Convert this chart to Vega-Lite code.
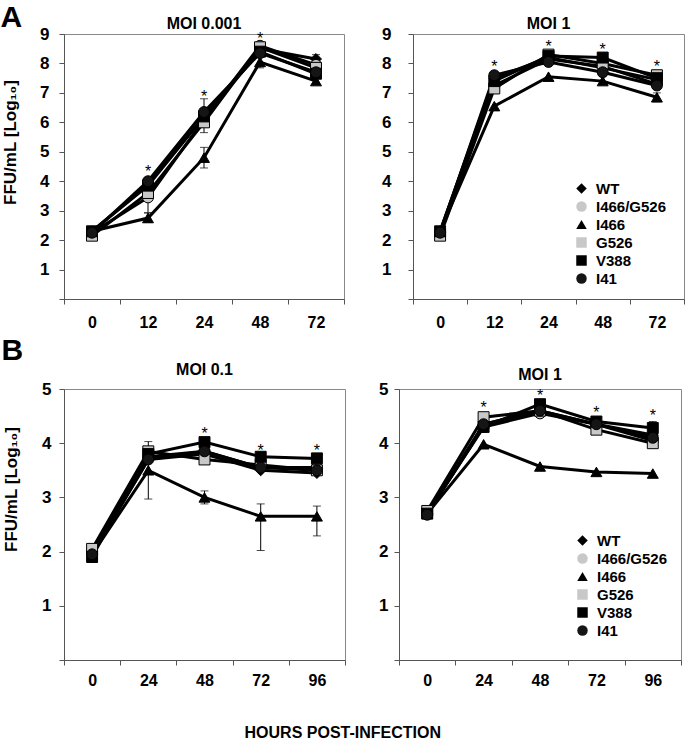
{
  "$schema": "https://vega.github.io/schema/vega-lite/v6.json",
  "padding": {"left": 0, "top": 2, "right": 0, "bottom": 0},
  "config": {
    "font": "Liberation Sans",
    "view": {"stroke": "#888", "strokeWidth": 1},
    "axis": {"domainColor": "#555", "tickColor": "#555", "labelFontWeight": "bold", "labelColor": "black", "titleColor": "black", "grid": false, "tickSize": 5},
    "title": {"fontSize": 16, "fontWeight": "bold", "color": "black"},
    "text": {"fill": "black"}
  },
  "datasets": {
    "growth": [
      {"panel": "A1", "hour": 0, "series": "WT", "value": 2.3},
      {"panel": "A1", "hour": 12, "series": "WT", "value": 3.9},
      {"panel": "A1", "hour": 24, "series": "WT", "value": 6.2, "lo": 5.65, "hi": 6.8},
      {"panel": "A1", "hour": 48, "series": "WT", "value": 8.5},
      {"panel": "A1", "hour": 72, "series": "WT", "value": 8.15, "lo": 8.0, "hi": 8.3},
      {"panel": "A1", "hour": 0, "series": "I466/G526", "value": 2.25},
      {"panel": "A1", "hour": 12, "series": "I466/G526", "value": 3.45, "lo": 2.93, "hi": 3.95},
      {"panel": "A1", "hour": 24, "series": "I466/G526", "value": 6.1},
      {"panel": "A1", "hour": 48, "series": "I466/G526", "value": 8.6},
      {"panel": "A1", "hour": 72, "series": "I466/G526", "value": 7.95},
      {"panel": "A1", "hour": 0, "series": "I466", "value": 2.3},
      {"panel": "A1", "hour": 12, "series": "I466", "value": 2.75, "lo": 2.6, "hi": 2.92},
      {"panel": "A1", "hour": 24, "series": "I466", "value": 4.8, "lo": 4.45, "hi": 5.15},
      {"panel": "A1", "hour": 48, "series": "I466", "value": 8.05, "lo": 7.85, "hi": 8.25},
      {"panel": "A1", "hour": 72, "series": "I466", "value": 7.4},
      {"panel": "A1", "hour": 0, "series": "G526", "value": 2.15},
      {"panel": "A1", "hour": 12, "series": "G526", "value": 3.6},
      {"panel": "A1", "hour": 24, "series": "G526", "value": 6.0},
      {"panel": "A1", "hour": 48, "series": "G526", "value": 8.55},
      {"panel": "A1", "hour": 72, "series": "G526", "value": 7.85},
      {"panel": "A1", "hour": 0, "series": "V388", "value": 2.3},
      {"panel": "A1", "hour": 12, "series": "V388", "value": 3.85},
      {"panel": "A1", "hour": 24, "series": "V388", "value": 6.2},
      {"panel": "A1", "hour": 48, "series": "V388", "value": 8.4},
      {"panel": "A1", "hour": 72, "series": "V388", "value": 7.65},
      {"panel": "A1", "hour": 0, "series": "I41", "value": 2.25},
      {"panel": "A1", "hour": 12, "series": "I41", "value": 4.0},
      {"panel": "A1", "hour": 24, "series": "I41", "value": 6.35},
      {"panel": "A1", "hour": 48, "series": "I41", "value": 8.35},
      {"panel": "A1", "hour": 72, "series": "I41", "value": 7.7},

      {"panel": "A2", "hour": 0, "series": "WT", "value": 2.3},
      {"panel": "A2", "hour": 12, "series": "WT", "value": 7.5},
      {"panel": "A2", "hour": 24, "series": "WT", "value": 8.2},
      {"panel": "A2", "hour": 48, "series": "WT", "value": 7.85},
      {"panel": "A2", "hour": 72, "series": "WT", "value": 7.45},
      {"panel": "A2", "hour": 0, "series": "I466/G526", "value": 2.25},
      {"panel": "A2", "hour": 12, "series": "I466/G526", "value": 7.25},
      {"panel": "A2", "hour": 24, "series": "I466/G526", "value": 8.15},
      {"panel": "A2", "hour": 48, "series": "I466/G526", "value": 7.9},
      {"panel": "A2", "hour": 72, "series": "I466/G526", "value": 7.3},
      {"panel": "A2", "hour": 0, "series": "I466", "value": 2.3},
      {"panel": "A2", "hour": 12, "series": "I466", "value": 6.55},
      {"panel": "A2", "hour": 24, "series": "I466", "value": 7.55},
      {"panel": "A2", "hour": 48, "series": "I466", "value": 7.4},
      {"panel": "A2", "hour": 72, "series": "I466", "value": 6.85, "lo": 6.7, "hi": 7.0},
      {"panel": "A2", "hour": 0, "series": "G526", "value": 2.15},
      {"panel": "A2", "hour": 12, "series": "G526", "value": 7.15},
      {"panel": "A2", "hour": 24, "series": "G526", "value": 8.3},
      {"panel": "A2", "hour": 48, "series": "G526", "value": 8.0},
      {"panel": "A2", "hour": 72, "series": "G526", "value": 7.6},
      {"panel": "A2", "hour": 0, "series": "V388", "value": 2.3},
      {"panel": "A2", "hour": 12, "series": "V388", "value": 7.4},
      {"panel": "A2", "hour": 24, "series": "V388", "value": 8.25},
      {"panel": "A2", "hour": 48, "series": "V388", "value": 8.2},
      {"panel": "A2", "hour": 72, "series": "V388", "value": 7.5},
      {"panel": "A2", "hour": 0, "series": "I41", "value": 2.25},
      {"panel": "A2", "hour": 12, "series": "I41", "value": 7.6},
      {"panel": "A2", "hour": 24, "series": "I41", "value": 8.05},
      {"panel": "A2", "hour": 48, "series": "I41", "value": 7.7},
      {"panel": "A2", "hour": 72, "series": "I41", "value": 7.25},

      {"panel": "B1", "hour": 0, "series": "WT", "value": 1.95},
      {"panel": "B1", "hour": 24, "series": "WT", "value": 3.7},
      {"panel": "B1", "hour": 48, "series": "WT", "value": 3.8},
      {"panel": "B1", "hour": 72, "series": "WT", "value": 3.5},
      {"panel": "B1", "hour": 96, "series": "WT", "value": 3.45},
      {"panel": "B1", "hour": 0, "series": "I466/G526", "value": 2.0},
      {"panel": "B1", "hour": 24, "series": "I466/G526", "value": 3.75},
      {"panel": "B1", "hour": 48, "series": "I466/G526", "value": 3.85},
      {"panel": "B1", "hour": 72, "series": "I466/G526", "value": 3.55},
      {"panel": "B1", "hour": 96, "series": "I466/G526", "value": 3.55},
      {"panel": "B1", "hour": 0, "series": "I466", "value": 1.95},
      {"panel": "B1", "hour": 24, "series": "I466", "value": 3.5, "lo": 2.97, "hi": 4.03},
      {"panel": "B1", "hour": 48, "series": "I466", "value": 3.0, "lo": 2.88, "hi": 3.12},
      {"panel": "B1", "hour": 72, "series": "I466", "value": 2.65, "lo": 2.02, "hi": 2.88},
      {"panel": "B1", "hour": 96, "series": "I466", "value": 2.65, "lo": 2.29, "hi": 2.84},
      {"panel": "B1", "hour": 0, "series": "G526", "value": 2.05},
      {"panel": "B1", "hour": 24, "series": "G526", "value": 3.85},
      {"panel": "B1", "hour": 48, "series": "G526", "value": 3.7},
      {"panel": "B1", "hour": 72, "series": "G526", "value": 3.6},
      {"panel": "B1", "hour": 96, "series": "G526", "value": 3.5},
      {"panel": "B1", "hour": 0, "series": "V388", "value": 1.9},
      {"panel": "B1", "hour": 24, "series": "V388", "value": 3.8},
      {"panel": "B1", "hour": 48, "series": "V388", "value": 4.02},
      {"panel": "B1", "hour": 72, "series": "V388", "value": 3.75},
      {"panel": "B1", "hour": 96, "series": "V388", "value": 3.72},
      {"panel": "B1", "hour": 0, "series": "I41", "value": 1.95},
      {"panel": "B1", "hour": 24, "series": "I41", "value": 3.7},
      {"panel": "B1", "hour": 48, "series": "I41", "value": 3.85},
      {"panel": "B1", "hour": 72, "series": "I41", "value": 3.55},
      {"panel": "B1", "hour": 96, "series": "I41", "value": 3.5},

      {"panel": "B2", "hour": 0, "series": "WT", "value": 2.7},
      {"panel": "B2", "hour": 24, "series": "WT", "value": 4.35},
      {"panel": "B2", "hour": 48, "series": "WT", "value": 4.6},
      {"panel": "B2", "hour": 72, "series": "WT", "value": 4.35},
      {"panel": "B2", "hour": 96, "series": "WT", "value": 4.15},
      {"panel": "B2", "hour": 0, "series": "I466/G526", "value": 2.7},
      {"panel": "B2", "hour": 24, "series": "I466/G526", "value": 4.3},
      {"panel": "B2", "hour": 48, "series": "I466/G526", "value": 4.55},
      {"panel": "B2", "hour": 72, "series": "I466/G526", "value": 4.35},
      {"panel": "B2", "hour": 96, "series": "I466/G526", "value": 4.05},
      {"panel": "B2", "hour": 0, "series": "I466", "value": 2.7},
      {"panel": "B2", "hour": 24, "series": "I466", "value": 3.98},
      {"panel": "B2", "hour": 48, "series": "I466", "value": 3.57},
      {"panel": "B2", "hour": 72, "series": "I466", "value": 3.47},
      {"panel": "B2", "hour": 96, "series": "I466", "value": 3.44},
      {"panel": "B2", "hour": 0, "series": "G526", "value": 2.75},
      {"panel": "B2", "hour": 24, "series": "G526", "value": 4.48},
      {"panel": "B2", "hour": 48, "series": "G526", "value": 4.6},
      {"panel": "B2", "hour": 72, "series": "G526", "value": 4.25},
      {"panel": "B2", "hour": 96, "series": "G526", "value": 4.0},
      {"panel": "B2", "hour": 0, "series": "V388", "value": 2.7},
      {"panel": "B2", "hour": 24, "series": "V388", "value": 4.3},
      {"panel": "B2", "hour": 48, "series": "V388", "value": 4.72},
      {"panel": "B2", "hour": 72, "series": "V388", "value": 4.4},
      {"panel": "B2", "hour": 96, "series": "V388", "value": 4.28, "lo": 4.16, "hi": 4.4},
      {"panel": "B2", "hour": 0, "series": "I41", "value": 2.68},
      {"panel": "B2", "hour": 24, "series": "I41", "value": 4.35},
      {"panel": "B2", "hour": 48, "series": "I41", "value": 4.6},
      {"panel": "B2", "hour": 72, "series": "I41", "value": 4.35},
      {"panel": "B2", "hour": 96, "series": "I41", "value": 4.1}
    ],
    "stars": [
      {"panel": "A1", "hour": 12, "value": 4.45},
      {"panel": "A1", "hour": 24, "value": 7.0},
      {"panel": "A1", "hour": 48, "value": 8.95},
      {"panel": "A2", "hour": 12, "value": 8.0},
      {"panel": "A2", "hour": 24, "value": 8.7},
      {"panel": "A2", "hour": 48, "value": 8.6},
      {"panel": "A2", "hour": 72, "value": 8.0},
      {"panel": "B1", "hour": 48, "value": 4.25},
      {"panel": "B1", "hour": 72, "value": 3.93},
      {"panel": "B1", "hour": 96, "value": 3.93},
      {"panel": "B2", "hour": 24, "value": 4.72},
      {"panel": "B2", "hour": 48, "value": 4.94},
      {"panel": "B2", "hour": 72, "value": 4.63},
      {"panel": "B2", "hour": 96, "value": 4.57}
    ]
  },
  "title": {"text": "HOURS POST-INFECTION", "orient": "bottom", "anchor": "middle", "fontSize": 16, "offset": 36},
  "resolve": {"scale": {"shape": "independent", "fill": "independent"}, "legend": {"shape": "independent", "fill": "independent"}},
  "spacing": 4,
  "vconcat": [
    {
      "title": {"text": "A", "anchor": "start", "fontSize": 30, "offset": -17, "frame": "bounds"},
      "spacing": 36,
      "resolve": {"scale": {"shape": "independent", "fill": "independent"}, "legend": {"shape": "independent", "fill": "independent"}},
      "hconcat": [
        {
          "width": 280, "height": 265,
          "title": {"text": "MOI 0.001", "offset": -7},
          "data": {"name": "growth"},
          "transform": [{"filter": "datum.panel == 'A1'"}],
          "encoding": {
            "x": {"field": "hour", "type": "ordinal", "bandPosition": 0.5, "scale": {"type": "band", "paddingInner": 0, "paddingOuter": 0}, "axis": {"title": null, "labelAngle": 0, "labelFontSize": 16, "labelPadding": 10, "tickBand": "extent"}},
            "y": {"field": "value", "type": "quantitative", "scale": {"domain": [0, 9], "nice": false}, "axis": {"values": [0,1,2,3,4,5,6,7,8,9], "labelExpr": "datum.value == 0 ? '' : datum.label", "labelFontSize": 17, "labelPadding": 10, "title": "FFU/mL [Log₁₀]", "titleFontSize": 17, "titleFontWeight": "bold", "titleX": -45, "titleY": 108}}
          },
          "layer": [
            {"mark": {"type": "line", "color": "black", "strokeWidth": 3}, "encoding": {"detail": {"field": "series"}}},
            {"transform": [{"filter": "isValid(datum.lo)"}], "mark": {"type": "rule", "color": "black", "strokeWidth": 1}, "encoding": {"y": {"field": "lo", "type": "quantitative", "title": "FFU/mL [Log₁₀]"}, "y2": {"field": "hi"}}},
            {"transform": [{"filter": "isValid(datum.lo)"}], "mark": {"type": "tick", "color": "black", "thickness": 1, "size": 8}, "encoding": {"y": {"field": "lo", "type": "quantitative", "title": "FFU/mL [Log₁₀]"}}},
            {"transform": [{"filter": "isValid(datum.lo)"}], "mark": {"type": "tick", "color": "black", "thickness": 1, "size": 8}, "encoding": {"y": {"field": "hi", "type": "quantitative", "title": "FFU/mL [Log₁₀]"}}},
            {"mark": {"type": "point", "filled": true, "stroke": "black", "strokeWidth": 1, "size": 120, "opacity": 1},
             "encoding": {
               "shape": {"field": "series", "type": "nominal", "scale": {"domain": ["WT", "I466/G526", "I466", "G526", "V388", "I41"], "range": ["diamond", "circle", "triangle-up", "square", "square", "circle"]}, "legend": null},
               "fill": {"field": "series", "type": "nominal", "scale": {"domain": ["WT", "I466/G526", "I466", "G526", "V388", "I41"], "range": ["#000000", "#c8c8c8", "#000000", "#c8c8c8", "#000000", "#151515"]}, "legend": null}
             }},
            {"data": {"name": "stars"}, "transform": [{"filter": "datum.panel == 'A1'"}], "mark": {"type": "text", "text": "*", "fontSize": 16, "baseline": "middle", "dy": 4, "fill": "black", "color": "black"}}
          ]
        },
        {
          "width": 271, "height": 265,
          "title": {"text": "MOI 1", "offset": -7},
          "data": {"name": "growth"},
          "transform": [{"filter": "datum.panel == 'A2'"}],
          "encoding": {
            "x": {"field": "hour", "type": "ordinal", "bandPosition": 0.5, "scale": {"type": "band", "paddingInner": 0, "paddingOuter": 0}, "axis": {"title": null, "labelAngle": 0, "labelFontSize": 16, "labelPadding": 10, "tickBand": "extent"}},
            "y": {"field": "value", "type": "quantitative", "scale": {"domain": [0, 9], "nice": false}, "axis": {"values": [0,1,2,3,4,5,6,7,8,9], "labelExpr": "datum.value == 0 ? '' : datum.label", "labelFontSize": 17, "labelPadding": 17, "title": null}}
          },
          "layer": [
            {"mark": {"type": "line", "color": "black", "strokeWidth": 3}, "encoding": {"detail": {"field": "series"}}},
            {"transform": [{"filter": "isValid(datum.lo)"}], "mark": {"type": "rule", "color": "black", "strokeWidth": 1}, "encoding": {"y": {"field": "lo", "type": "quantitative", "title": null}, "y2": {"field": "hi"}}},
            {"transform": [{"filter": "isValid(datum.lo)"}], "mark": {"type": "tick", "color": "black", "thickness": 1, "size": 8}, "encoding": {"y": {"field": "lo", "type": "quantitative", "title": null}}},
            {"transform": [{"filter": "isValid(datum.lo)"}], "mark": {"type": "tick", "color": "black", "thickness": 1, "size": 8}, "encoding": {"y": {"field": "hi", "type": "quantitative", "title": null}}},
            {"mark": {"type": "point", "filled": true, "stroke": "black", "strokeWidth": 1, "size": 120, "opacity": 1},
             "encoding": {
               "shape": {"field": "series", "type": "nominal", "scale": {"domain": ["WT", "I466/G526", "I466", "G526", "V388", "I41"], "range": ["diamond", "circle", "triangle-up", "square", "square", "circle"]}, "legend": {"title": null, "orient": "none", "legendX": 161, "legendY": 147, "labelFontSize": 15, "labelFontWeight": "bold", "labelColor": "black", "labelOffset": 7, "symbolSize": 110, "symbolStrokeColor": "black", "symbolStrokeWidth": 1, "rowPadding": 2, "padding": 0}},
               "fill": {"field": "series", "type": "nominal", "scale": {"domain": ["WT", "I466/G526", "I466", "G526", "V388", "I41"], "range": ["#000000", "#c8c8c8", "#000000", "#c8c8c8", "#000000", "#151515"]}, "legend": {"title": null, "orient": "none", "legendX": 161, "legendY": 147, "labelFontSize": 15, "labelFontWeight": "bold", "labelColor": "black", "labelOffset": 7, "symbolSize": 110, "symbolStrokeColor": "black", "symbolStrokeWidth": 1, "rowPadding": 2, "padding": 0}}
             }},
            {"data": {"name": "stars"}, "transform": [{"filter": "datum.panel == 'A2'"}], "mark": {"type": "text", "text": "*", "fontSize": 16, "baseline": "middle", "dy": 4, "fill": "black", "color": "black"}}
          ]
        }
      ]
    },
    {
      "title": {"text": "B", "anchor": "start", "fontSize": 30, "offset": -4, "frame": "bounds"},
      "spacing": 32,
      "resolve": {"scale": {"shape": "independent", "fill": "independent"}, "legend": {"shape": "independent", "fill": "independent"}},
      "hconcat": [
        {
          "width": 281, "height": 271,
          "title": {"text": "MOI 0.1", "offset": 2},
          "data": {"name": "growth"},
          "transform": [{"filter": "datum.panel == 'B1'"}],
          "encoding": {
            "x": {"field": "hour", "type": "ordinal", "bandPosition": 0.5, "scale": {"type": "band", "paddingInner": 0, "paddingOuter": 0}, "axis": {"title": null, "labelAngle": 0, "labelFontSize": 16, "labelPadding": 7, "tickBand": "extent"}},
            "y": {"field": "value", "type": "quantitative", "scale": {"domain": [0, 5], "nice": false}, "axis": {"values": [0,1,2,3,4,5], "labelExpr": "datum.value == 0 ? '' : datum.label", "labelFontSize": 17, "labelPadding": 8, "title": "FFU/mL [Log₁₀]", "titleFontSize": 17, "titleFontWeight": "bold", "titleX": -44, "titleY": 100}}
          },
          "layer": [
            {"mark": {"type": "line", "color": "black", "strokeWidth": 3}, "encoding": {"detail": {"field": "series"}}},
            {"transform": [{"filter": "isValid(datum.lo)"}], "mark": {"type": "rule", "color": "black", "strokeWidth": 1}, "encoding": {"y": {"field": "lo", "type": "quantitative", "title": "FFU/mL [Log₁₀]"}, "y2": {"field": "hi"}}},
            {"transform": [{"filter": "isValid(datum.lo)"}], "mark": {"type": "tick", "color": "black", "thickness": 1, "size": 8}, "encoding": {"y": {"field": "lo", "type": "quantitative", "title": "FFU/mL [Log₁₀]"}}},
            {"transform": [{"filter": "isValid(datum.lo)"}], "mark": {"type": "tick", "color": "black", "thickness": 1, "size": 8}, "encoding": {"y": {"field": "hi", "type": "quantitative", "title": "FFU/mL [Log₁₀]"}}},
            {"mark": {"type": "point", "filled": true, "stroke": "black", "strokeWidth": 1, "size": 120, "opacity": 1},
             "encoding": {
               "shape": {"field": "series", "type": "nominal", "scale": {"domain": ["WT", "I466/G526", "I466", "G526", "V388", "I41"], "range": ["diamond", "circle", "triangle-up", "square", "square", "circle"]}, "legend": null},
               "fill": {"field": "series", "type": "nominal", "scale": {"domain": ["WT", "I466/G526", "I466", "G526", "V388", "I41"], "range": ["#000000", "#c8c8c8", "#000000", "#c8c8c8", "#000000", "#151515"]}, "legend": null}
             }},
            {"data": {"name": "stars"}, "transform": [{"filter": "datum.panel == 'B1'"}], "mark": {"type": "text", "text": "*", "fontSize": 16, "baseline": "middle", "dy": 4, "fill": "black", "color": "black"}}
          ]
        },
        {
          "width": 282, "height": 271,
          "title": {"text": "MOI 1", "offset": -3},
          "data": {"name": "growth"},
          "transform": [{"filter": "datum.panel == 'B2'"}],
          "encoding": {
            "x": {"field": "hour", "type": "ordinal", "bandPosition": 0.5, "scale": {"type": "band", "paddingInner": 0, "paddingOuter": 0}, "axis": {"title": null, "labelAngle": 0, "labelFontSize": 16, "labelPadding": 7, "tickBand": "extent"}},
            "y": {"field": "value", "type": "quantitative", "scale": {"domain": [0, 5], "nice": false}, "axis": {"values": [0,1,2,3,4,5], "labelExpr": "datum.value == 0 ? '' : datum.label", "labelFontSize": 17, "labelPadding": 6, "title": null}}
          },
          "layer": [
            {"mark": {"type": "line", "color": "black", "strokeWidth": 3}, "encoding": {"detail": {"field": "series"}}},
            {"transform": [{"filter": "isValid(datum.lo)"}], "mark": {"type": "rule", "color": "black", "strokeWidth": 1}, "encoding": {"y": {"field": "lo", "type": "quantitative", "title": null}, "y2": {"field": "hi"}}},
            {"transform": [{"filter": "isValid(datum.lo)"}], "mark": {"type": "tick", "color": "black", "thickness": 1, "size": 8}, "encoding": {"y": {"field": "lo", "type": "quantitative", "title": null}}},
            {"transform": [{"filter": "isValid(datum.lo)"}], "mark": {"type": "tick", "color": "black", "thickness": 1, "size": 8}, "encoding": {"y": {"field": "hi", "type": "quantitative", "title": null}}},
            {"mark": {"type": "point", "filled": true, "stroke": "black", "strokeWidth": 1, "size": 120, "opacity": 1},
             "encoding": {
               "shape": {"field": "series", "type": "nominal", "scale": {"domain": ["WT", "I466/G526", "I466", "G526", "V388", "I41"], "range": ["diamond", "circle", "triangle-up", "square", "square", "circle"]}, "legend": {"title": null, "orient": "none", "legendX": 176, "legendY": 144, "labelFontSize": 15, "labelFontWeight": "bold", "labelColor": "black", "labelOffset": 7, "symbolSize": 110, "symbolStrokeColor": "black", "symbolStrokeWidth": 1, "rowPadding": 2, "padding": 0}},
               "fill": {"field": "series", "type": "nominal", "scale": {"domain": ["WT", "I466/G526", "I466", "G526", "V388", "I41"], "range": ["#000000", "#c8c8c8", "#000000", "#c8c8c8", "#000000", "#151515"]}, "legend": {"title": null, "orient": "none", "legendX": 176, "legendY": 144, "labelFontSize": 15, "labelFontWeight": "bold", "labelColor": "black", "labelOffset": 7, "symbolSize": 110, "symbolStrokeColor": "black", "symbolStrokeWidth": 1, "rowPadding": 2, "padding": 0}}
             }},
            {"data": {"name": "stars"}, "transform": [{"filter": "datum.panel == 'B2'"}], "mark": {"type": "text", "text": "*", "fontSize": 16, "baseline": "middle", "dy": 4, "fill": "black", "color": "black"}}
          ]
        }
      ]
    }
  ]
}
